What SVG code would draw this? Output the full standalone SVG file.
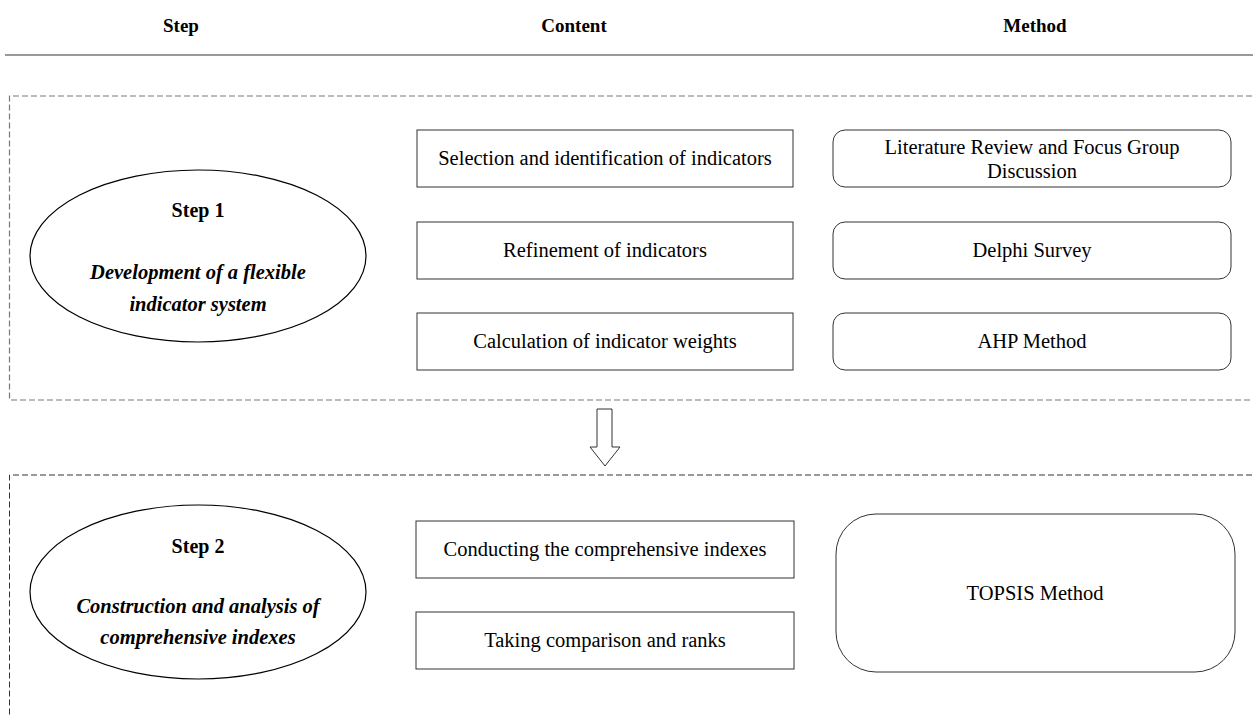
<svg xmlns="http://www.w3.org/2000/svg" width="1253" height="715" viewBox="0 0 1253 715">
<style>
.hdr{font-family:"Liberation Serif",serif;font-weight:bold;font-size:19px;fill:#000;text-anchor:middle}
.t{font-family:"Liberation Serif",serif;font-size:20.5px;fill:#000;text-anchor:middle}
.st{font-family:"Liberation Serif",serif;font-weight:bold;font-size:20px;fill:#000;text-anchor:middle}
.sti{font-family:"Liberation Serif",serif;font-weight:bold;font-style:italic;font-size:20.5px;fill:#000;text-anchor:middle}
.box{fill:#fff;stroke:#333;stroke-width:1}
.ell{fill:#fff;stroke:#000;stroke-width:1.2}
.dash1{fill:none;stroke:#777;stroke-width:1.2;stroke-dasharray:6,3}
.dash2{fill:none;stroke:#333;stroke-width:1;stroke-dasharray:6,3}
</style>
<rect width="1253" height="715" fill="#fff"/>
<g id="header">
<text class="hdr" x="181" y="32">Step</text>
<text class="hdr" x="574" y="32">Content</text>
<text class="hdr" x="1035" y="32">Method</text>
<line x1="5" y1="55" x2="1253" y2="55" stroke="#777" stroke-width="1.3"/>
</g>
<g id="panel1">
<path class="dash1" d="M1252,96 H9.5 V400 H1252"/>
</g>
<g id="panel2">
<path class="dash2" d="M1252,475 H9.5 V715"/>
</g>
<g id="step1">
<ellipse class="ell" cx="198" cy="256" rx="168" ry="86"/>
<text class="st" x="198" y="217">Step 1</text>
<text class="sti" x="198" y="279">Development of a flexible</text>
<text class="sti" x="198" y="311">indicator system</text>
</g>
<g id="c1"><rect class="box" x="417" y="130" width="376" height="57"/><text class="t" x="605" y="165">Selection and identification of indicators</text></g>
<g id="c2"><rect class="box" x="417" y="222" width="376" height="57"/><text class="t" x="605" y="257">Refinement of indicators</text></g>
<g id="c3"><rect class="box" x="417" y="313" width="376" height="57"/><text class="t" x="605" y="348">Calculation of indicator weights</text></g>
<g id="m1"><rect class="box" x="833" y="130" width="398" height="57" rx="12"/><text class="t" x="1032" y="154">Literature Review and Focus Group</text><text class="t" x="1032" y="178">Discussion</text></g>
<g id="m2"><rect class="box" x="833" y="222" width="398" height="57" rx="12"/><text class="t" x="1032" y="257">Delphi Survey</text></g>
<g id="m3"><rect class="box" x="833" y="313" width="398" height="57" rx="12"/><text class="t" x="1032" y="348">AHP Method</text></g>
<g id="connectors">
<path d="M597,409 H612 V447 H620 L605,466 L590,447 H597 Z" fill="#fff" stroke="#333" stroke-width="1"/>
</g>
<g id="step2">
<ellipse class="ell" cx="198" cy="592" rx="168" ry="87"/>
<text class="st" x="198" y="553">Step 2</text>
<text class="sti" x="198" y="613">Construction and analysis of</text>
<text class="sti" x="198" y="644">comprehensive indexes</text>
</g>
<g id="c4"><rect class="box" x="416" y="521" width="378" height="57"/><text class="t" x="605" y="556">Conducting the comprehensive indexes</text></g>
<g id="c5"><rect class="box" x="416" y="612" width="378" height="57"/><text class="t" x="605" y="647">Taking comparison and ranks</text></g>
<g id="m4"><rect class="box" x="836" y="514" width="399" height="158" rx="40"/><text class="t" x="1035" y="600">TOPSIS Method</text></g>
</svg>
